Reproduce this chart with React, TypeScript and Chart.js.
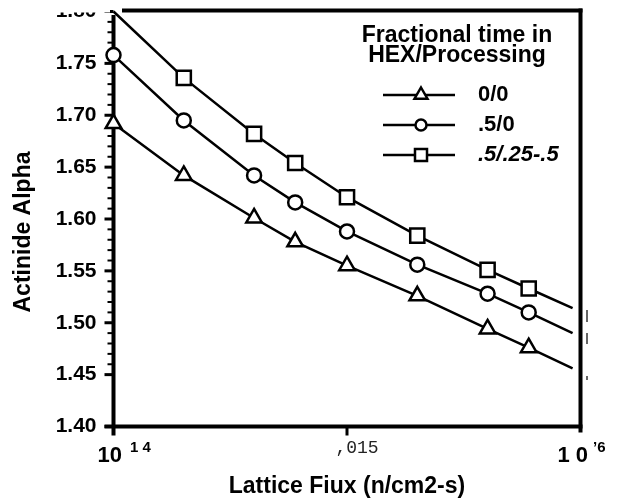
import React, { useEffect, useRef } from 'react';
import { Chart, registerables } from 'chart.js';

Chart.register(...registerables);

// ---- data ----
const fluxValues = [1e14, 2e14, 4e14, 6e14, 1e15, 2e15, 4e15, 6e15, 9.25e15];
const seriesNames = ['0/0', '.5/0', '.5/.25-.5'];
const alpha00 = [1.692, 1.642, 1.601, 1.578, 1.555, 1.526, 1.494, 1.476, 1.456];
const alpha050 = [1.758, 1.695, 1.642, 1.616, 1.588, 1.556, 1.528, 1.510, 1.490];
const alpha05025 = [1.800, 1.736, 1.682, 1.654, 1.621, 1.584, 1.551, 1.533, 1.514];
const markerShown00 = [true, true, true, true, true, true, true, true, false];
const markerShown050 = [true, true, true, true, true, true, true, true, false];
const markerShown05025 = [false, true, true, true, true, true, true, true, false];
const yMin = 1.4;
const yMax = 1.8;
const yMajorStep = 0.05;
const xMin = 1e14;
const xMax = 1e16;
const xTickValues = [1e14, 1e15, 1e16];
const xTickMain = ['10', ',015', '1 0'];
const xTickSup = ['1 4', '', '\u20196'];
const legendTitle = ['Fractional time in', 'HEX/Processing'];
const xTitle = 'Lattice Fiux (n/cm2-s)';
const yTitle = 'Actinide Alpha';

const FONT = "'Liberation Sans', Arial, Helvetica, sans-serif";

type Shape = 'triangle' | 'circle' | 'rect';
const shapes: Shape[] = ['triangle', 'circle', 'rect'];
const radii = [9, 7, 10];

function drawMarker(ctx: CanvasRenderingContext2D, shape: Shape, x: number, y: number, r: number) {
  ctx.beginPath();
  if (shape === 'circle') {
    ctx.arc(x, y, r, 0, Math.PI * 2);
  } else if (shape === 'triangle') {
    ctx.moveTo(x, y - r);
    ctx.lineTo(x + 0.866 * r, y + 0.5 * r);
    ctx.lineTo(x - 0.866 * r, y + 0.5 * r);
    ctx.closePath();
  } else {
    const s = Math.SQRT1_2 * r;
    ctx.rect(x - s, y - s, 2 * s, 2 * s);
  }
  ctx.fillStyle = '#fff';
  ctx.fill();
  ctx.lineWidth = 2.5;
  ctx.strokeStyle = '#000';
  ctx.stroke();
}

const framePlugin = {
  id: 'framePlugin',
  beforeDatasetsDraw(chart: any) {
    const { ctx, chartArea } = chart;
    const yScale = chart.scales.y;
    const xScale = chart.scales.x;
    ctx.save();
    ctx.strokeStyle = '#000';
    ctx.lineCap = 'butt';
    // left axis
    ctx.lineWidth = 4;
    ctx.beginPath();
    ctx.moveTo(chartArea.left, 15);
    ctx.lineTo(chartArea.left, chartArea.bottom + 9);
    ctx.stroke();
    // bottom axis
    ctx.beginPath();
    ctx.moveTo(chartArea.left - 9, chartArea.bottom);
    ctx.lineTo(chartArea.right + 2, chartArea.bottom);
    ctx.stroke();
    // top frame
    ctx.beginPath();
    ctx.moveTo(122, chartArea.top - 1);
    ctx.lineTo(chartArea.right + 2, chartArea.top - 1);
    ctx.stroke();
    // right frame
    ctx.beginPath();
    ctx.moveTo(chartArea.right, chartArea.top - 3);
    ctx.lineTo(chartArea.right, chartArea.bottom + 6);
    ctx.stroke();
    // y ticks (major + minor)
    for (let i = 0; i <= 40; i++) {
      const v = yMin + i * 0.01;
      const y = yScale.getPixelForValue(v);
      const major = i % 5 === 0;
      if (!major && v < 1.455) continue;
      ctx.lineWidth = major ? 3 : 2;
      ctx.beginPath();
      ctx.moveTo(chartArea.left, y);
      ctx.lineTo(chartArea.left - (major ? 9 : 6), y);
      ctx.stroke();
    }
    // x tick at middle decade
    ctx.lineWidth = 3;
    const xm = xScale.getPixelForValue(xTickValues[1]);
    ctx.beginPath();
    ctx.moveTo(xm, chartArea.bottom);
    ctx.lineTo(xm, chartArea.bottom + 9);
    ctx.stroke();
    ctx.restore();
  },
  afterDraw(chart: any) {
    const { ctx, chartArea } = chart;
    const xScale = chart.scales.x;
    ctx.save();
    // mask the clipped top label (scan edge)
    ctx.fillStyle = '#fff';
    ctx.fillRect(30, 0, 80, 12.5);

    // x tick labels
    ctx.fillStyle = '#000';
    ctx.textBaseline = 'middle';
    xTickValues.forEach((v, i) => {
      const px = xScale.getPixelForValue(v);
      if (i === 1) {
        ctx.font = `normal 18px 'Liberation Mono', 'DejaVu Sans Mono', monospace`;
        ctx.fillStyle = '#222';
        ctx.textAlign = 'center';
        ctx.fillText(xTickMain[i], px + 10, 448);
      } else {
        ctx.fillStyle = '#000';
        ctx.font = `bold 22px ${FONT}`;
        ctx.textAlign = 'left';
        const mx = i === 0 ? px - 16 : px - 23;
        ctx.fillText(xTickMain[i], mx, 456);
        const w = ctx.measureText(xTickMain[i]).width;
        ctx.font = `bold 15px ${FONT}`;
        ctx.fillText(xTickSup[i], mx + w + (i === 0 ? 8 : 5), 448);
      }
    });

    // x title
    ctx.fillStyle = '#000';
    ctx.font = `bold 23px ${FONT}`;
    ctx.textAlign = 'center';
    ctx.textBaseline = 'middle';
    ctx.fillText(xTitle, (chartArea.left + chartArea.right) / 2, 487);

    // y title
    ctx.save();
    ctx.translate(24, 232);
    ctx.rotate(-Math.PI / 2);
    ctx.fillText(yTitle, 0, 0);
    ctx.restore();

    // legend
    ctx.font = `bold 23px ${FONT}`;
    ctx.textAlign = 'center';
    ctx.textBaseline = 'alphabetic';
    ctx.fillText(legendTitle[0], 457, 42);
    ctx.fillText(legendTitle[1], 457, 62);
    const rowY = [95, 125, 155];
    seriesNames.forEach((name, i) => {
      const y = rowY[i];
      ctx.strokeStyle = '#000';
      ctx.lineWidth = 2.5;
      ctx.beginPath();
      ctx.moveTo(383, y);
      ctx.lineTo(455, y);
      ctx.stroke();
      drawMarker(ctx, shapes[i], 421, y, radii[i] - 1.5);
      ctx.fillStyle = '#000';
      ctx.font = `${i === 2 ? 'italic ' : ''}bold 22px ${FONT}`;
      ctx.textAlign = 'left';
      ctx.textBaseline = 'middle';
      ctx.fillText(name, 478, y);
    });

    // small scan marks right of the frame
    ctx.strokeStyle = '#333';
    ctx.lineWidth = 1.5;
    ctx.beginPath();
    ctx.moveTo(587, 310); ctx.lineTo(587, 322);
    ctx.moveTo(587, 333); ctx.lineTo(587, 344);
    ctx.moveTo(587, 376); ctx.lineTo(587, 380);
    ctx.stroke();
    ctx.restore();
  },
};

const seriesValues = [alpha00, alpha050, alpha05025];
const markerShown = [markerShown00, markerShown050, markerShown05025];

export default function App() {
  const canvasRef = useRef<HTMLCanvasElement | null>(null);

  useEffect(() => {
    if (!canvasRef.current) return;
    const datasets = seriesNames.map((name, i) => ({
      label: name,
      data: fluxValues.map((x, j) => ({ x, y: seriesValues[i][j] })),
      borderColor: '#000',
      borderWidth: 2.5,
      backgroundColor: '#fff',
      pointStyle: shapes[i],
      pointRadius: markerShown[i].map((s) => (s ? radii[i] : 0)),
      pointBackgroundColor: '#fff',
      pointBorderColor: '#000',
      pointBorderWidth: 2.5,
      tension: 0,
      clip: false as any,
    }));
    const chart = new Chart(canvasRef.current, {
      type: 'line',
      data: { datasets },
      options: {
        animation: false,
        responsive: false,
        maintainAspectRatio: false,
        layout: { padding: { top: 10, right: 48.5, bottom: 0, left: 0 } },
        plugins: { legend: { display: false }, tooltip: { enabled: false } },
        scales: {
          x: {
            type: 'logarithmic',
            min: xMin,
            max: xMax,
            ticks: { display: false },
            grid: { display: false },
            border: { display: false },
            afterFit: (s: any) => {
              s.height = 73.5;
              s.paddingLeft = 0;
              s.paddingRight = 0;
            },
          },
          y: {
            type: 'linear',
            min: yMin,
            max: yMax,
            ticks: {
              stepSize: yMajorStep,
              padding: 17,
              color: '#000',
              font: { family: FONT, weight: 'bold', size: 21 },
              callback: (v: any) => Number(v).toFixed(2),
            },
            grid: { display: false, drawTicks: false },
            border: { display: false },
            afterFit: (s: any) => {
              s.width = 113.5;
              s.paddingTop = 0;
              s.paddingBottom = 0;
            },
          },
        },
      } as any,
      plugins: [framePlugin],
    });
    return () => chart.destroy();
  }, []);

  return (
    <div style={{ position: 'absolute', left: 0, top: 0, width: 629, height: 500, background: '#fff' }}>
      <canvas ref={canvasRef} width={629} height={500} style={{ display: 'block' }} />
    </div>
  );
}
